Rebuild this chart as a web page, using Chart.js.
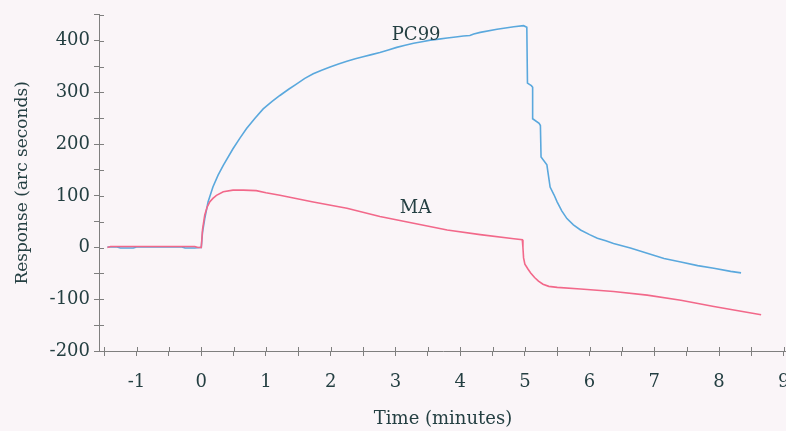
<!DOCTYPE html>
<html>
<head>
<meta charset="utf-8">
<script src="https://cdn.jsdelivr.net/npm/chart.js@4.4.1/dist/chart.umd.min.js"></script>
<style>
  html, body { margin: 0; padding: 0; background: #faf5f8; overflow: hidden; }
  #wrap { width: 810px; height: 431px; position: relative; }
</style>
</head>
<body>
<div id="wrap"><canvas id="c" width="810" height="431"></canvas></div>
<script>
// ---- data (time in minutes, response in arc seconds) ----
const pc99Time = [-1.45, -1.3, -1.25, -1.05, -1.0, -0.3, -0.25, -0.1, -0.02, 0.0,
  0.02, 0.054, 0.105, 0.18, 0.26, 0.34, 0.49, 0.6, 0.70, 0.83, 0.957, 1.09, 1.215, 1.35, 1.47,
  1.6, 1.73, 1.86, 1.99, 2.12, 2.25, 2.38, 2.5, 2.63, 2.76, 2.89,
  3.02, 3.15, 3.28, 3.41, 3.54, 3.67, 3.8, 3.93, 4.05, 4.15, 4.21, 4.31, 4.57, 4.83, 4.98, 5.03,
  5.04, 5.10, 5.12, 5.12, 5.22, 5.24, 5.25, 5.34, 5.39, 5.45, 5.5, 5.57, 5.65, 5.75, 5.86,
  6.0, 6.12, 6.25, 6.37, 6.63,
  6.89, 7.15, 7.41, 7.67, 7.92, 8.18, 8.34];
const pc99Value = [1, 1, -1, -1, 1, 1, -1, -1, 0, 0,
  30, 56, 88, 117, 140, 159, 191, 212, 230, 250, 268, 282, 294, 306, 316,
  327, 336, 343, 349, 355, 360, 365, 369, 373, 377, 382,
  387, 391, 395, 398, 401, 403, 405, 407, 409, 410, 413, 416, 422, 427, 429, 426,
  318, 313, 310, 249, 240, 236, 175, 160, 117, 102, 88, 71, 56, 44, 34,
  25, 18, 13, 8, -1,
  -11, -21, -28, -35, -40, -46, -49];

const maTime = [-1.45, -1.4, -0.1, -0.05, 0.0, 0.02, 0.054, 0.09, 0.13, 0.18, 0.235, 0.34,
  0.49, 0.65, 0.85, 1.0, 1.215, 1.73, 2.25, 2.76, 3.28, 3.8, 4.31, 4.83, 4.96, 4.97, 4.98,
  5.0, 5.05, 5.09, 5.15, 5.21, 5.28, 5.37, 5.5,
  5.86, 6.37, 6.89, 7.41, 7.92, 8.34, 8.65];
const maValue = [0, 2, 2, 0, 0, 35, 63, 78, 88, 95, 101, 108,
  111, 111, 110, 106, 101, 88, 76, 60, 47, 34, 25, 17, 15, 0, -20,
  -32, -42, -49, -58, -65, -71, -75, -77,
  -80, -85, -92, -102, -114, -123, -130];

const seriesNames = ['PC99', 'MA'];
const seriesLabelAt = [[3.32, 411], [3.31, 75]]; // label anchors in data units

const xTitle = 'Time (minutes)';
const yTitle = 'Response (arc seconds)';

const textColor = '#243f42';
const axisColor = '#7f7f7f';
const fontFamily = '"DejaVu Serif", serif';

function pts(xs, ys) { return xs.map((x, i) => ({ x: x, y: ys[i] })); }

function stepTicks(step) {
  return s => {
    const out = [];
    const start = Math.ceil(s.min / step - 1e-9);
    const end = Math.floor(s.max / step + 1e-9);
    for (let k = start; k <= end; k++) out.push({ value: Math.round(k * step * 1000) / 1000 });
    s.ticks = out;
  };
}

const crossTicks = {
  id: 'crossTicks',
  afterDraw(chart) {
    const ctx = chart.ctx;
    const xs = chart.scales.x, ys = chart.scales.y;
    ctx.save();
    ctx.strokeStyle = axisColor;
    ctx.lineWidth = 1;
    ctx.beginPath();
    xs.ticks.forEach(t => {
      const px = Math.round(xs.getPixelForValue(t.value)) + 0.5;
      ctx.moveTo(px, ys.bottom); ctx.lineTo(px, ys.bottom - 4);
    });
    ys.ticks.forEach(t => {
      const py = Math.round(ys.getPixelForValue(t.value)) + 0.5;
      ctx.moveTo(xs.left, py); ctx.lineTo(xs.left + 5, py);
    });
    ctx.stroke();
    // series labels
    ctx.fillStyle = textColor;
    ctx.font = '18px ' + fontFamily;
    ctx.textAlign = 'center';
    ctx.textBaseline = 'middle';
    seriesNames.forEach((n, i) => {
      ctx.fillText(n, xs.getPixelForValue(seriesLabelAt[i][0]), ys.getPixelForValue(seriesLabelAt[i][1]));
    });
    ctx.restore();
  }
};

new Chart(document.getElementById('c'), {
  type: 'scatter',
  data: {
    datasets: [
      { label: seriesNames[0], data: pts(pc99Time, pc99Value), showLine: true,
        borderColor: '#5aa8dd', borderWidth: 1.6, pointRadius: 0, tension: 0, order: 2 },
      { label: seriesNames[1], data: pts(maTime, maValue), showLine: true,
        borderColor: '#f2688a', borderWidth: 1.6, pointRadius: 0, tension: 0, order: 1 }
    ]
  },
  options: {
    responsive: false,
    animation: false,
    layout: { padding: { top: 13, right: 23, left: 0, bottom: 0 } },
    plugins: { legend: { display: false }, tooltip: { enabled: false } },
    scales: {
      x: {
        type: 'linear', min: -1.58, max: 9.05,
        afterFit: s => { s.height = 80; },
        afterBuildTicks: stepTicks(0.5),
        border: { color: axisColor, width: 1 },
        grid: { drawOnChartArea: false, drawTicks: true, tickLength: 5, color: axisColor },
        ticks: {
          autoSkip: false, maxRotation: 0, padding: 16,
          color: textColor, font: { family: fontFamily, size: 18 },
          callback: v => Number.isInteger(v) ? String(v) : ''
        },
        title: { display: true, text: xTitle, color: textColor,
          font: { family: fontFamily, size: 18 }, padding: { top: 0, bottom: 1 } }
      },
      y: {
        type: 'linear', min: -200, max: 450,
        afterFit: s => { s.width = 99; },
        afterBuildTicks: stepTicks(50),
        border: { color: axisColor, width: 1 },
        grid: { drawOnChartArea: false, drawTicks: true, tickLength: 5, color: axisColor },
        ticks: {
          autoSkip: false, padding: 4,
          color: textColor, font: { family: fontFamily, size: 18 },
          callback: v => (v % 100 === 0) ? String(v) : ''
        },
        title: { display: true, text: yTitle, color: textColor,
          font: { family: fontFamily, size: 17 }, padding: { top: 12, bottom: 0 } }
      }
    }
  },
  plugins: [crossTicks]
});
</script>
</body>
</html>
